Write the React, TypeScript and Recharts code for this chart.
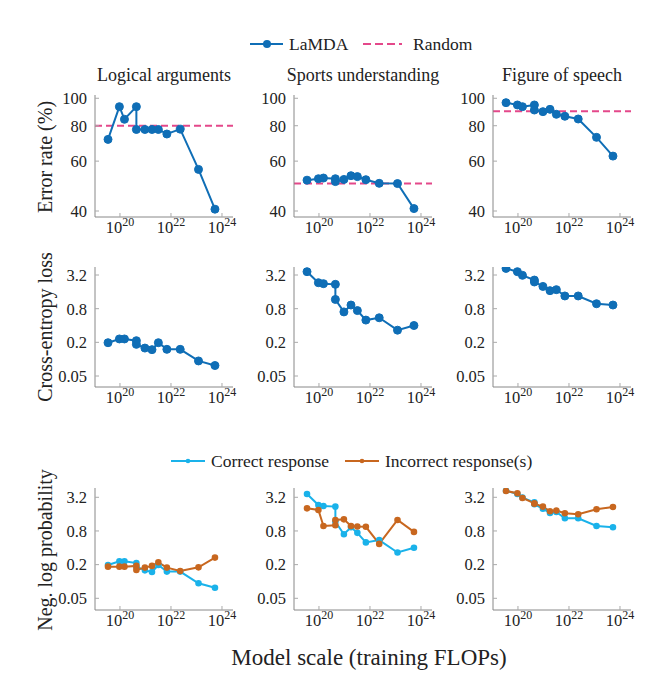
import { LineChart, Line, XAxis, YAxis, ReferenceLine } from 'recharts'

const FONT = 'Liberation Serif, DejaVu Serif, Noto Serif, serif'

// training FLOPs of the 12 LaMDA checkpoints
const flops = [3.4e19, 9.5e19, 1.5e20, 4.4e20, 4.4e20, 9.5e20, 1.8e21, 3.2e21, 6.9e21, 2.3e22, 1.2e23, 5.3e23]

const tasks = ['Logical arguments', 'Sports understanding', 'Figure of speech']

// row 1: error rate (%)
const errLogical = [71.6, 93.4, 84.3, 93.4, 77.6, 77.6, 77.6, 77.6, 74.8, 77.8, 56.1, 40.6]
const errSports = [51.4, 52.0, 52.3, 52.0, 50.8, 51.7, 53.3, 52.9, 51.6, 50.1, 50.0, 40.8]
const errSpeech = [96.5, 94.7, 93.4, 94.7, 90.9, 89.7, 91.4, 87.8, 86.4, 84.5, 72.8, 62.5]
const randomErr = [80, 50, 90]

// row 2: cross-entropy loss (= neg. log prob of the correct response)
const ceLogical = [0.197, 0.23, 0.23, 0.214, 0.184, 0.158, 0.148, 0.197, 0.15, 0.15, 0.093, 0.077]
const ceSports = [3.67, 2.33, 2.24, 2.18, 1.17, 0.7, 0.93, 0.74, 0.5, 0.55, 0.33, 0.4]
const ceSpeech = [4.2, 3.67, 3.16, 2.6, 2.4, 2.0, 1.68, 1.75, 1.35, 1.35, 0.98, 0.93]

// row 3: neg. log prob of the incorrect response(s)
const incLogical = [0.184, 0.184, 0.184, 0.19, 0.161, 0.177, 0.19, 0.22, 0.177, 0.154, 0.179, 0.267]
const incSports = [2.03, 1.9, 0.98, 1.01, 1.26, 1.29, 0.98, 0.96, 0.95, 0.47, 1.26, 0.77]
const incSpeech = [4.15, 3.78, 3.11, 2.5, 2.45, 2.18, 1.8, 1.85, 1.66, 1.59, 1.95, 2.15]

const xTicks = [1e20, 1e22, 1e24]
const errTicks = [40, 60, 80, 100]
const lossTicks = [0.05, 0.2, 0.8, 3.2]

const BLUE = '#0f6eb6'
const PINK = '#e4488a'
const CYAN = '#1ab2ea'
const ORANGE = '#c8671f'

const errSeries = [errLogical, errSports, errSpeech]
const ceSeries = [ceLogical, ceSports, ceSpeech]
const incSeries = [incLogical, incSports, incSpeech]

const COL_LEFT = [95, 294, 493]
const PLOT_W = 138
const X_DOMAIN = [1.05e19, 2.7e24]

function XTick({ x, y, payload }: any) {
  const exp = Math.round(Math.log10(payload.value))
  return (
    <text x={x} y={y + 12} textAnchor="middle" style={{ fontFamily: FONT }} fontSize={16.5} fill="#222">
      10<tspan dy={-7} fontSize={12}>{exp}</tspan>
    </text>
  )
}

function Panel({ left, top, h, data, domain, ticks, children }: any) {
  return (
    <div style={{ position: 'absolute', left: left - 45, top: top - 6 }}>
      <LineChart
        width={45 + PLOT_W + 12}
        height={h + 6 + 30}
        data={data}
        margin={{ top: 6, right: 12, bottom: 0, left: 0 }}
        style={{ fontFamily: FONT }}
      >
        <XAxis
          dataKey="x"
          type="number"
          scale="log"
          domain={X_DOMAIN}
          ticks={xTicks}
          interval={0}
          allowDataOverflow
          height={30}
          axisLine={{ stroke: '#888' }}
          tickLine={{ stroke: '#aaa' }}
          tickSize={-4}
          tickMargin={8}
          tick={<XTick />}
        />
        <YAxis
          type="number"
          scale="log"
          domain={domain}
          ticks={ticks}
          interval={0}
          allowDataOverflow
          width={45}
          axisLine={{ stroke: '#888' }}
          tickLine={{ stroke: '#aaa' }}
          tickSize={-4}
          tickMargin={12}
          tick={{ style: { fontFamily: FONT }, fontSize: 16.5, fill: '#222' }}
        />
        {children}
      </LineChart>
    </div>
  )
}

export default function App() {
  return (
    <div style={{ position: 'absolute', left: 0, top: 0, width: 666, height: 680, background: '#fff', fontFamily: FONT }}>
      {COL_LEFT.map((left, i) => {
        const data = flops.map((x, k) => ({ x, y: errSeries[i][k] }))
        return (
          <Panel key={'e' + i} left={left} top={95} h={122} data={data} domain={[38.1, 102.7]} ticks={errTicks}>
            <ReferenceLine y={randomErr[i]} stroke={PINK} strokeWidth={2} strokeDasharray="7 4" />
            <Line dataKey="y" stroke={BLUE} strokeWidth={2} dot={{ r: 4, fill: BLUE, stroke: BLUE, strokeWidth: 1 }} isAnimationActive={false} />
          </Panel>
        )
      })}
      {COL_LEFT.map((left, i) => {
        const data = flops.map((x, k) => ({ x, y: ceSeries[i][k] }))
        return (
          <Panel key={'c' + i} left={left} top={267} h={120} data={data} domain={[0.0318, 4.45]} ticks={lossTicks}>
            <Line dataKey="y" stroke={BLUE} strokeWidth={2} dot={{ r: 4, fill: BLUE, stroke: BLUE, strokeWidth: 1 }} isAnimationActive={false} />
          </Panel>
        )
      })}
      {COL_LEFT.map((left, i) => {
        const data = flops.map((x, k) => ({ x, correct: ceSeries[i][k], incorrect: incSeries[i][k] }))
        return (
          <Panel key={'n' + i} left={left} top={488} h={122} data={data} domain={[0.0309, 4.69]} ticks={lossTicks}>
            <Line dataKey="correct" stroke={CYAN} strokeWidth={2} dot={{ r: 2.3, fill: CYAN, stroke: CYAN }} isAnimationActive={false} />
            <Line dataKey="incorrect" stroke={ORANGE} strokeWidth={2} dot={{ r: 2.3, fill: ORANGE, stroke: ORANGE }} isAnimationActive={false} />
          </Panel>
        )
      })}

      <svg width={666} height={680} style={{ position: 'absolute', left: 0, top: 0, pointerEvents: 'none', fontFamily: FONT }} fill="#222">
        {/* top legend */}
        <line x1={250} x2={283} y1={44} y2={44} stroke={BLUE} strokeWidth={2} />
        <circle cx={267} cy={44} r={4} fill={BLUE} />
        <text x={289} y={44} fontSize={17.5} dominantBaseline="central">LaMDA</text>
        <line x1={363} x2={402} y1={44} y2={44} stroke={PINK} strokeWidth={2} strokeDasharray="8 4" />
        <text x={413} y={44} fontSize={17.5} dominantBaseline="central">Random</text>

        {tasks.map((t, i) => (
          <text key={t} x={COL_LEFT[i] + PLOT_W / 2} y={75} fontSize={18} textAnchor="middle" dominantBaseline="central">{t}</text>
        ))}

        <text transform="translate(45,157) rotate(-90)" fontSize={20} textAnchor="middle" dominantBaseline="central">Error rate (%)</text>
        <text transform="translate(45,327) rotate(-90)" fontSize={20} textAnchor="middle" dominantBaseline="central">Cross-entropy loss</text>
        <text transform="translate(45,550) rotate(-90)" fontSize={20} textAnchor="middle" dominantBaseline="central">Neg. log probability</text>

        {/* bottom legend */}
        <line x1={171} x2={205} y1={461} y2={461} stroke={CYAN} strokeWidth={2} />
        <circle cx={188} cy={461} r={2.3} fill={CYAN} />
        <text x={211} y={461} fontSize={17.5} dominantBaseline="central">Correct response</text>
        <line x1={345} x2={379} y1={461} y2={461} stroke={ORANGE} strokeWidth={2} />
        <circle cx={362} cy={461} r={2.3} fill={ORANGE} />
        <text x={385} y={461} fontSize={17.5} dominantBaseline="central">Incorrect response(s)</text>

        <text x={369} y={657} fontSize={23} textAnchor="middle" dominantBaseline="central">Model scale (training FLOPs)</text>
      </svg>
    </div>
  )
}
